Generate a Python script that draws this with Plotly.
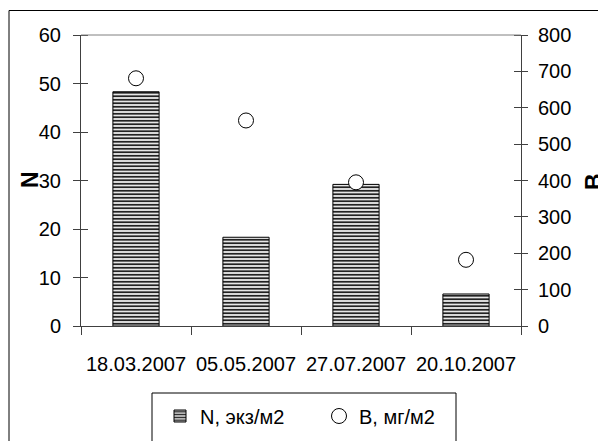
import plotly.graph_objects as go

categories = ["18.03.2007", "05.05.2007", "27.07.2007", "20.10.2007"]
n_values = [48.3, 18.3, 29.2, 6.6]
b_values = [681, 565, 395, 182]
n_ticks = [0, 10, 20, 30, 40, 50, 60]
b_ticks = [0, 100, 200, 300, 400, 500, 600, 700, 800]

# The page body has an 8px margin, so figure coords = window coords - 8
OFF = 8
W, H = 606, 441
ML = 81 - OFF
MT = round(34.7 - OFF)
MR = W - (521 - OFF)
MB = H - (326 - OFF)
PW, PH = W - ML - MR, H - MT - MB

def px(x):  # window pixel -> paper x
    return (x - OFF - ML) / PW

def py(y):  # window pixel -> paper y
    return 1 - (y - OFF - MT) / PH

FONT = "Liberation Sans, Arial, sans-serif"
AX = "#404040"

fig = go.Figure()
fig.add_trace(go.Bar(
    x=categories, y=n_values, name="N, экз/м2",
    marker=dict(color="#e6e6e6", line=dict(color="#000000", width=1),
                pattern=dict(shape="-", size=3.5, solidity=0.5,
                             fgcolor="#222222", bgcolor="#e6e6e6", fillmode="replace")),
    yaxis="y", width=0.42,
))
fig.add_trace(go.Scatter(
    x=categories, y=b_values, name="B, мг/м2", mode="markers",
    marker=dict(symbol="circle", size=15, color="white",
                line=dict(color="#000000", width=1)),
    yaxis="y2",
))

fig.update_layout(
    width=W, height=H,
    margin=dict(l=ML, r=MR, t=MT, b=MB, autoexpand=False),
    paper_bgcolor="white", plot_bgcolor="white",
    font=dict(family=FONT, size=20, color="#000000"),
    showlegend=True,
    legend=dict(orientation="h", x=px(160), xanchor="left", y=py(416), yanchor="middle",
                bgcolor="rgba(0,0,0,0)", borderwidth=0,
                font=dict(family=FONT, size=20), entrywidth=114, entrywidthmode="pixels",
                itemclick=False, itemdoubleclick=False),
    xaxis=dict(
        type="category", range=[-0.5, 3.5], showgrid=False,
        showline=True, linecolor=AX, linewidth=1,
        ticks="outside", tickson="boundaries", ticklen=8, tickcolor=AX,
        ticklabelstandoff=20, tickangle=0, tickfont=dict(size=20),
        fixedrange=True,
    ),
    yaxis=dict(
        range=[0, 60], tickvals=n_ticks, showgrid=False, zeroline=False,
        showline=True, linecolor=AX, linewidth=1,
        ticks="outside", ticklen=7, tickcolor=AX, ticklabelstandoff=8,
        minor=dict(tickvals=n_ticks, ticks="inside", ticklen=7, tickcolor=AX),
        fixedrange=True,
    ),
    yaxis2=dict(
        range=[0, 800], tickvals=b_ticks, overlaying="y", side="right",
        showgrid=False, zeroline=False,
        showline=True, linecolor=AX, linewidth=1,
        ticks="outside", ticklen=6, tickcolor=AX, ticklabelstandoff=6,
        minor=dict(tickvals=b_ticks, ticks="inside", ticklen=7, tickcolor=AX),
        fixedrange=True,
    ),
    annotations=[
        dict(text="<b>N</b>", xref="paper", yref="paper", x=px(30), y=py(180),
             textangle=-90, showarrow=False, font=dict(size=23),
             xanchor="center", yanchor="middle"),
        dict(text="<b>B</b>", xref="paper", yref="paper", x=px(594), y=py(182),
             textangle=-90, showarrow=False, font=dict(size=23),
             xanchor="center", yanchor="middle"),
    ],
    shapes=[
        dict(type="line", xref="paper", yref="paper", x0=0, x1=1, y0=1, y1=1,
             line=dict(color="#808080", width=1)),
        dict(type="rect", xref="paper", yref="paper",
             x0=px(9), x1=px(640), y0=py(10.5), y1=py(480),
             line=dict(color="#000000", width=1), fillcolor="rgba(0,0,0,0)", layer="below"),
        dict(type="rect", xref="paper", yref="paper",
             x0=px(152), x1=px(456), y0=py(393), y1=py(480),
             line=dict(color="#000000", width=1), fillcolor="rgba(0,0,0,0)", layer="below"),
    ],
)

fig.write_html("out.html", config={"displayModeBar": False})
